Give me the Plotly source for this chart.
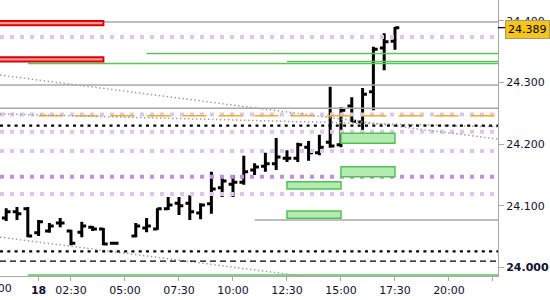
import plotly.graph_objects as go

# ---------------- data ----------------
bar_index = [-3, -2, -1, 0, 1, 2, 3, 4, 5, 6, 7,
             9, 10, 11, 12, 13, 14, 15, 16, 17, 18, 19, 20,
             21, 22, 23, 24, 25, 26, 27, 28, 29, 30, 31, 32, 33]
opens  = [24.080, 24.090, 24.095, 24.056, 24.059, 24.072, 24.059, 24.057, 24.065, 24.062, 24.039,
          24.051, 24.064, 24.062, 24.095, 24.104, 24.104, 24.088, 24.103, 24.129, 24.135, 24.138, 24.158,
          24.164, 24.168, 24.177, 24.177, 24.195, 24.186, 24.203, 24.199, 24.262, 24.236, 24.285, 24.356, 24.367]
highs  = [24.096, 24.098, 24.098, 24.077, 24.072, 24.080, 24.061, 24.074, 24.067, 24.064, 24.041,
          24.072, 24.080, 24.096, 24.114, 24.114, 24.117, 24.104, 24.155, 24.150, 24.150, 24.181, 24.169,
          24.186, 24.210, 24.190, 24.202, 24.205, 24.215, 24.293, 24.260, 24.276, 24.291, 24.358, 24.380, 24.390]
lows   = [24.075, 24.077, 24.049, 24.051, 24.056, 24.065, 24.036, 24.049, 24.059, 24.036, 24.038,
          24.049, 24.057, 24.061, 24.093, 24.085, 24.077, 24.078, 24.087, 24.114, 24.114, 24.134, 24.150,
          24.155, 24.158, 24.171, 24.171, 24.173, 24.182, 24.194, 24.195, 24.236, 24.220, 24.255, 24.320, 24.353]
closes = [24.090, 24.087, 24.051, 24.074, 24.067, 24.072, 24.039, 24.067, 24.062, 24.038, 24.039,
          24.067, 24.067, 24.095, 24.101, 24.100, 24.090, 24.101, 24.127, 24.140, 24.138, 24.155, 24.163,
          24.168, 24.179, 24.177, 24.199, 24.186, 24.195, 24.197, 24.255, 24.237, 24.281, 24.354, 24.366, 24.389]

x_tick_pos = [0, 3, 8, 13, 18, 23, 28, 33, 38, 42]
x_tick_labels = ["<b>18</b>", "02:30", "05:00", "07:30", "10:00", "12:30", "15:00", "17:30", "20:00", ""]
prev_day_label = "22:00"

y_tick_vals = [24.0, 24.1, 24.2, 24.3, 24.4]
y_tick_labels = ["<b>24.000</b>", "24.100", "24.200", "24.300", "24.400"]
last_price = 24.389

X_RANGE = [-3.574, 42.54]
Y_RANGE = [23.9859, 24.4339]

# horizontal levels: (price, start_index or None for full width)
grey_levels = [(24.398, None), (24.296, None), (24.258, None), (24.077, 20)]
green_levels = [(24.347, 10), (24.334, 23), (24.331, -1), (23.9875, -1)]
light_purple_levels = [24.374, 24.248, 24.220, 24.189, 24.119]
mid_purple_levels = [24.147]
orange_level = (24.246, 0)
black_dotted_levels = [24.230, 24.026]
black_dashed_levels = [24.010]

# trend lines: (x0, y0, x1, y1)
trend_lines = [(-3.574, 24.312, 42.54, 24.208),
               (-3.574, 24.249, 42.54, 24.228),
               (-3.574, 24.049, 42.54, 23.945)]

# zones: (x0, x1, y0, y1)
red_zones = [(-4.0, 6.0, 24.393, 24.400), (-4.0, 6.0, 24.334, 24.341)]
green_zones = [(28, 33, 24.2013, 24.2175), (28, 33, 24.1471, 24.1633),
               (23, 28, 24.127, 24.139), (23, 28, 24.0795, 24.0914)]

FONT = "DejaVu Sans"
TXT = "#101030"

fig = go.Figure()

def hline(y, x0, color, width, dash="solid"):
    x_start = X_RANGE[0] if x0 is None else x0
    fig.add_trace(go.Scatter(x=[x_start, X_RANGE[1]], y=[y, y], mode="lines",
                             line=dict(color=color, width=width, dash=dash),
                             hoverinfo="skip", showlegend=False))

for y in light_purple_levels:
    hline(y, None, "#dfc4f1", 4, "4px,6px")
for y in mid_purple_levels:
    hline(y, None, "#c58ce6", 4, "4px,6px")
for y, x0 in grey_levels:
    hline(y, x0, "#a8a8a8", 1.5)
for y, x0 in green_levels:
    hline(y, x0, "#5cc25c", 1.5)
hline(orange_level[0], orange_level[1], "#f2b01e", 1.6, "24px,12px")
for x0, y0, x1, y1 in trend_lines:
    fig.add_trace(go.Scatter(x=[x0, x1], y=[y0, y1], mode="lines",
                             line=dict(color="#a0a0a0", width=1.5, dash="1.5px,2.5px"),
                             hoverinfo="skip", showlegend=False))
for y in black_dotted_levels:
    hline(y, None, "#000000", 2.2, "3px,4.3px")
for y in black_dashed_levels:
    hline(y, None, "#000000", 1.3, "6px,4px")

shapes = []
for x0, x1, y0, y1 in red_zones:
    shapes.append(dict(type="rect", xref="x", yref="y", x0=x0, x1=x1, y0=y0, y1=y1,
                       fillcolor="#f59e9e", line=dict(color="#e00000", width=2), layer="above"))
for x0, x1, y0, y1 in green_zones:
    shapes.append(dict(type="rect", xref="x", yref="y", x0=x0, x1=x1, y0=y0, y1=y1,
                       fillcolor="#b5ebb3", line=dict(color="#4fc34f", width=1.5), layer="above"))
shapes.append(dict(type="line", xref="paper", yref="y", x0=1.0, x1=1.0 + 7 / 498,
                   y0=last_price, y1=last_price, line=dict(color="#000000", width=1.2)))

fig.add_trace(go.Ohlc(x=bar_index, open=opens, high=highs, low=lows, close=closes,
                      increasing=dict(line=dict(color="#000000", width=3)),
                      decreasing=dict(line=dict(color="#000000", width=3)),
                      tickwidth=0.4, showlegend=False, hoverinfo="skip"))

fig.update_layout(
    width=550, height=300,
    margin=dict(l=0, r=52, t=0, b=24),
    paper_bgcolor="white", plot_bgcolor="white",
    shapes=shapes,
    showlegend=False,
    font=dict(family=FONT, size=11, color=TXT),
    xaxis=dict(range=X_RANGE, showgrid=False, zeroline=False, rangeslider=dict(visible=False),
               showline=True, linecolor="#a8a8a8", linewidth=1,
               ticks="outside", ticklen=4, tickcolor="#a8a8a8",
               tickmode="array", tickvals=x_tick_pos, ticktext=x_tick_labels,
               tickfont=dict(family=FONT, size=11, color=TXT)),
    yaxis=dict(range=Y_RANGE, side="right", showgrid=False, zeroline=False,
               showline=True, linecolor="#a8a8a8", linewidth=1,
               ticks="outside", ticklen=5, tickcolor="#a8a8a8",
               tickmode="array", tickvals=y_tick_vals, ticktext=y_tick_labels,
               tickfont=dict(family=FONT, size=11, color=TXT)),
    annotations=[
        dict(xref="paper", yref="y", x=1.0, y=last_price, xanchor="left", yanchor="middle",
             xshift=7, yshift=-2, text=f"{last_price:.3f}", showarrow=False,
             bgcolor="#f7c51a", bordercolor="#a89a70", borderwidth=1, borderpad=2,
             font=dict(family=FONT, size=11, color="#000000")),
        dict(xref="paper", yref="paper", x=-4 / 498, y=0, xanchor="center", yanchor="middle",
             yshift=-12, text=prev_day_label, showarrow=False,
             font=dict(family=FONT, size=11, color=TXT)),
    ],
)

fig.write_html("out.html")
